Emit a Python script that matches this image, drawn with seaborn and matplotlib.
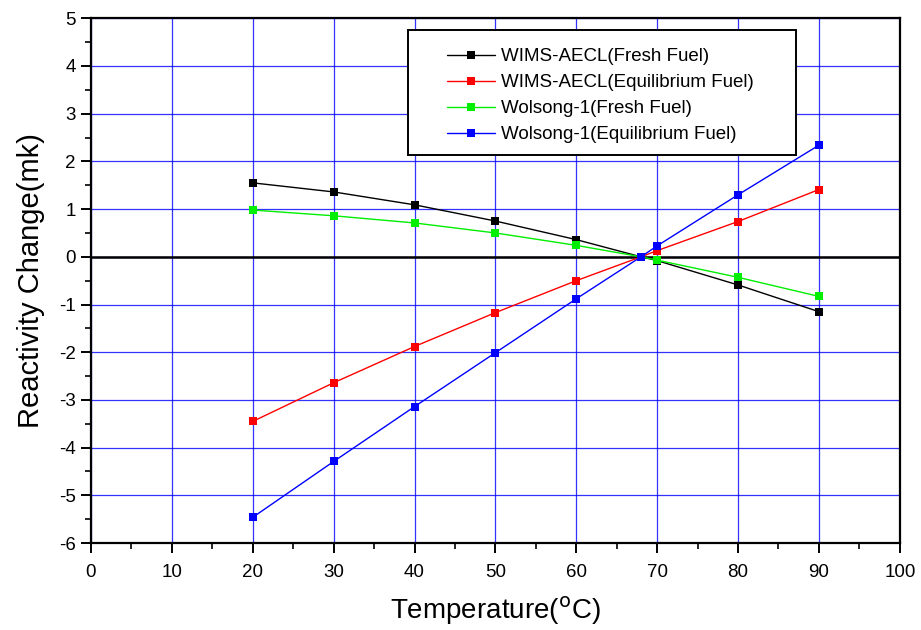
import matplotlib
matplotlib.use("Agg")
import matplotlib.pyplot as plt
import seaborn as sns
import pandas as pd
from matplotlib.ticker import MultipleLocator
from matplotlib.patches import Rectangle

temps = [20, 30, 40, 50, 60, 68, 70, 80, 90]
wims_fresh = [1.55, 1.36, 1.09, 0.75, 0.36, 0.0, -0.08, -0.59, -1.15]
wims_equil = [-3.45, -2.64, -1.88, -1.17, -0.50, 0.0, 0.13, 0.74, 1.41]
wolsong_fresh = [0.98, 0.86, 0.71, 0.50, 0.24, 0.0, -0.07, -0.43, -0.83]
wolsong_equil = [-5.46, -4.29, -3.14, -2.01, -0.88, 0.0, 0.23, 1.30, 2.34]

series_names = ["WIMS-AECL(Fresh Fuel)", "WIMS-AECL(Equilibrium Fuel)",
                "Wolsong-1(Fresh Fuel)", "Wolsong-1(Equilibrium Fuel)"]
series_vals = [wims_fresh, wims_equil, wolsong_fresh, wolsong_equil]
colors = ["#000000", "#ff0000", "#00ee00", "#0000ff"]

rows = []
for name, vals in zip(series_names, series_vals):
    for t, v in zip(temps, vals):
        rows.append({"Temperature": t, "Reactivity": v, "Series": name})
df = pd.DataFrame(rows)

sns.set_style("white")
plt.rcParams["font.family"] = ["Liberation Sans", "DejaVu Sans"]
plt.rcParams["axes.unicode_minus"] = False
plt.rcParams["text.color"] = "black"
plt.rcParams["axes.labelcolor"] = "black"

fig = plt.figure(figsize=(9.21, 6.3), dpi=100)
ax = fig.add_axes([0.0988, 0.138, 0.8782, 0.833])

ax.set_xlim(0, 100)
ax.set_ylim(-6, 5)
ax.xaxis.set_major_locator(MultipleLocator(10))
ax.xaxis.set_minor_locator(MultipleLocator(5))
ax.yaxis.set_major_locator(MultipleLocator(1))
ax.yaxis.set_minor_locator(MultipleLocator(0.5))
ax.grid(True, which="major", color="#0000ff", linewidth=0.9, alpha=0.8)
ax.set_axisbelow(True)
ax.axhline(0, color="black", linewidth=1.8, zorder=1.5)

sns.lineplot(data=df, x="Temperature", y="Reactivity", hue="Series",
             hue_order=series_names, palette=colors, marker="s",
             markersize=6, markeredgewidth=0, linewidth=1.0, ax=ax,
             zorder=3)

for sp in ax.spines.values():
    sp.set_linewidth(1.6)
    sp.set_color("black")

ax.tick_params(axis="both", which="both", bottom=True, left=True,
               top=False, right=False, direction="out", colors="black")
ax.tick_params(axis="both", which="major", length=7, width=1.4,
               labelsize=13.5)
ax.tick_params(axis="both", which="minor", length=4, width=1.2)
ax.tick_params(axis="x", which="major", pad=8)
ax.tick_params(axis="y", which="major", pad=4)

ax.set_xlabel("Temperature($^{\\mathrm{o}}$C)", fontsize=20, labelpad=10)
ax.set_ylabel("Reactivity Change(mk)", fontsize=21, labelpad=10)

# legend frame
box = Rectangle((0.392, 0.739), 0.48, 0.238, transform=ax.transAxes,
                facecolor="white", edgecolor="black", linewidth=1.4,
                zorder=5)
ax.add_patch(box)
leg = ax.legend(loc="upper left", bbox_to_anchor=(0.44, 0.943),
                fontsize=13.5, frameon=False, borderpad=0,
                handlelength=2.56, handletextpad=0.32, labelspacing=0.47,
                borderaxespad=0)
leg.set_zorder(6)

fig.savefig("out.png", dpi=100)
